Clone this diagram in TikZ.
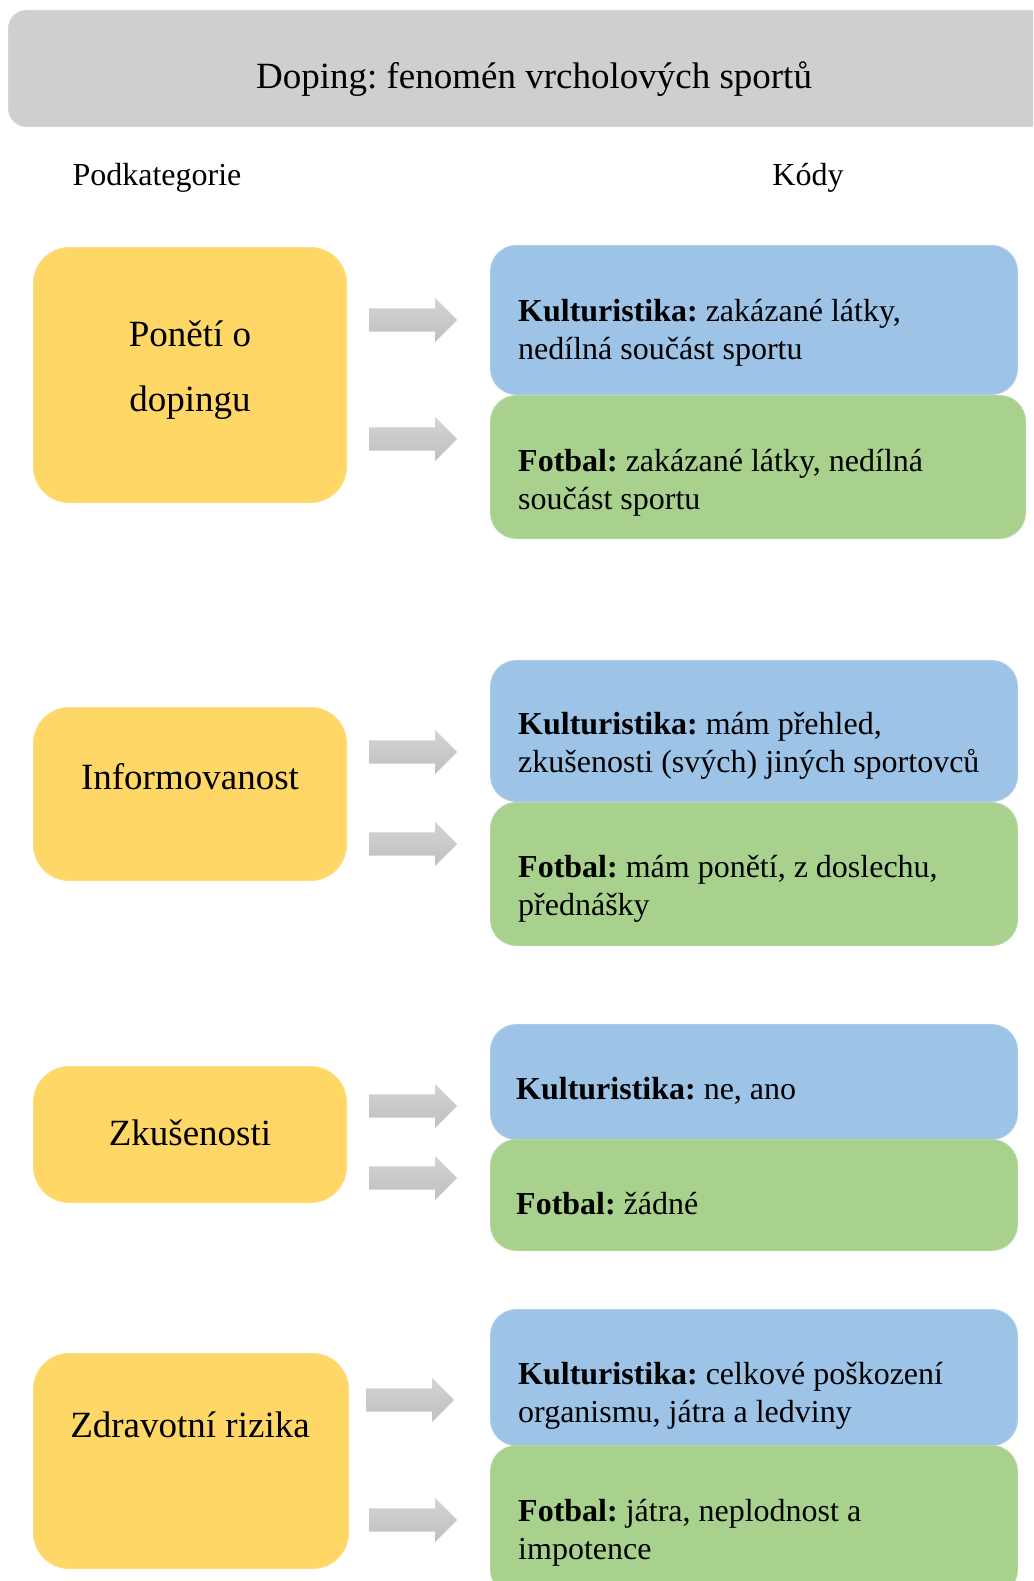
\documentclass[tikz,border=0pt]{standalone}
\usepackage{fontspec}
\setmainfont{Liberation Serif}
\usetikzlibrary{shapes.arrows}
\definecolor{ygold}{HTML}{FED766}
\definecolor{kblue}{HTML}{9DC3E6}
\definecolor{fgreen}{HTML}{A9D18E}
\definecolor{tgray}{HTML}{D0CECE}
\definecolor{agray}{HTML}{C9C9C9}
\frenchspacing
\tikzset{
  ybox/.style={rectangle, rounded corners=36pt, fill=ygold, draw=ygold!85!white, line width=1pt, anchor=north west, inner sep=0pt},
  kbox/.style={rectangle, rounded corners=26pt, fill=kblue, draw=kblue!85!white, line width=1pt, anchor=north west, inner sep=0pt, minimum width=527pt},
  fbox/.style={rectangle, rounded corners=26pt, fill=fgreen, draw=fgreen!85!white, line width=1pt, anchor=north west, inner sep=0pt, minimum width=527pt},
  rtext/.style={anchor=west, align=left, inner sep=0pt, font=\fontsize{32}{38}\selectfont},
  ltext/.style={anchor=center, align=center, inner sep=0pt, font=\fontsize{37}{65}\selectfont},
  blockarrow/.style={single arrow, top color=agray!80!white, bottom color=agray!95!black, draw=none,
    minimum height=88pt, inner sep=11.5pt, single arrow head extend=10.5pt, anchor=west},
}
\begin{document}
\begin{tikzpicture}[x=1pt,y=1pt]
\useasboundingbox (0,0) rectangle (1033,-1581);
\clip (0,0) rectangle (1033,-1581);
% title
\node[rectangle, rounded corners=18pt, fill=tgray, draw=tgray!85!white, line width=1pt, anchor=north west,
  inner sep=0pt, minimum width=1050pt, minimum height=116pt] (title) at (8,-10) {};
\node[inner sep=0pt, font=\fontsize{37}{44}\selectfont] (titletext) at (534,-79) {Doping: fenomén vrcholových sportů};
% headers
\node[inner sep=0pt, font=\fontsize{32}{38}\selectfont] (hpod) at (157,-178) {Podkategorie};
\node[inner sep=0pt, font=\fontsize{32}{38}\selectfont] (hkod) at (808,-178) {Kódy};
% left boxes
\node[ybox, minimum width=313pt, minimum height=255pt] (p1) at (33,-247) {};
\node[ybox, minimum width=313pt, minimum height=173pt] (p2) at (33,-707) {};
\node[ybox, minimum width=313pt, minimum height=136pt] (p3) at (33,-1066) {};
\node[ybox, minimum width=315pt, minimum height=215pt] (p4) at (33,-1353) {};
\node[ltext] (p1t) at (190,-370) {Ponětí o\\dopingu};
\node[ltext] (p2t) at (190,-777) {Informovanost};
\node[ltext] (p3t) at (190,-1133) {Zkušenosti};
\node[ltext] (p4t) at (190,-1425) {Zdravotní rizika};
% right boxes
\node[kbox, minimum height=149pt] (k1) at (490,-245) {};
\node[fbox, minimum width=535pt, minimum height=143pt] (f1) at (490,-395) {};
\node[kbox, minimum height=141pt] (k2) at (490,-660) {};
\node[fbox, minimum height=143pt] (f2) at (490,-802) {};
\node[kbox, minimum height=115pt] (k3) at (490,-1024) {};
\node[fbox, minimum height=111pt] (f3) at (490,-1139) {};
\node[kbox, minimum height=136pt] (k4) at (490,-1309) {};
\node[fbox, minimum height=150pt] (f4) at (490,-1445) {};
\node[rtext] (k1t) at (518,-333) {\textbf{Kulturistika:} zakázané látky,\\nedílná součást sportu};
\node[rtext] (f1t) at (518,-483) {\textbf{Fotbal:} zakázané látky, nedílná\\součást sportu};
\node[rtext] (k2t) at (518,-746) {\textbf{Kulturistika:} mám přehled,\\zkušenosti (svých) jiných sportovců};
\node[rtext] (f2t) at (518,-889) {\textbf{Fotbal:} mám ponětí, z doslechu,\\přednášky};
\node[rtext] (k3t) at (516,-1091) {\textbf{Kulturistika:} ne, ano};
\node[rtext] (f3t) at (516,-1204) {\textbf{Fotbal:} žádné};
\node[rtext] (k4t) at (518,-1396) {\textbf{Kulturistika:} celkové poškození\\organismu, játra a ledviny};
\node[rtext] (f4t) at (518,-1533) {\textbf{Fotbal:} játra, neplodnost a\\impotence};
% arrows
\node[blockarrow] (a1) at (369,-320) {};
\node[blockarrow] (a2) at (369,-439) {};
\node[blockarrow] (a3) at (369,-752) {};
\node[blockarrow] (a4) at (369,-844) {};
\node[blockarrow] (a5) at (369,-1106) {};
\node[blockarrow] (a6) at (369,-1178) {};
\node[blockarrow] (a7) at (366,-1400) {};
\node[blockarrow] (a8) at (369,-1520) {};
\end{tikzpicture}
\end{document}
